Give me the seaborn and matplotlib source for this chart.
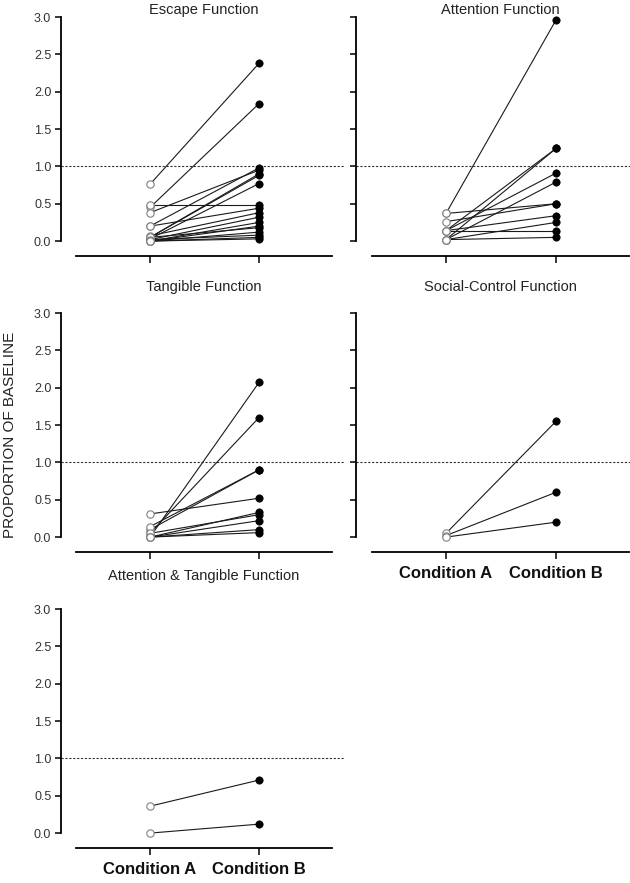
import numpy as np
import pandas as pd
import matplotlib
matplotlib.use("Agg")
import matplotlib.pyplot as plt
import seaborn as sns

# ---- data: (Condition A, Condition B) pairs per function ----
escape_a = [0.76, 0.45, 0.48, 0.38, 0.20, 0.20, 0.05, 0.05, 0.03, 0.07, 0.02, 0.00, 0.00, 0.05, 0.00, 0.02, 0.00, 0.00]
escape_b = [2.38, 1.84, 0.48, 0.95, 0.98, 0.44, 0.90, 0.88, 0.77, 0.38, 0.32, 0.25, 0.20, 0.18, 0.12, 0.08, 0.05, 0.03]

attention_a = [0.37, 0.37, 0.14, 0.02, 0.14, 0.02, 0.26, 0.14, 0.02, 0.14, 0.02]
attention_b = [2.96, 0.50, 1.24, 1.24, 0.91, 0.79, 0.50, 0.34, 0.25, 0.14, 0.05]

tangible_a = [0.00, 0.05, 0.10, 0.14, 0.31, 0.00, 0.05, 0.00, 0.00, 0.00]
tangible_b = [2.07, 1.60, 0.90, 0.90, 0.52, 0.33, 0.30, 0.22, 0.10, 0.06]

social_a = [0.05, 0.02, 0.00]
social_b = [1.55, 0.60, 0.20]

att_tang_a = [0.36, 0.00]
att_tang_b = [0.71, 0.12]

titles = ["Escape Function", "Attention Function", "Tangible Function",
          "Social-Control Function", "Attention & Tangible Function"]
cond_labels = ["Condition A", "Condition B"]
y_ticks = [0.0, 0.5, 1.0, 1.5, 2.0, 2.5, 3.0]

panels = [(escape_a, escape_b), (attention_a, attention_b), (tangible_a, tangible_b),
          (social_a, social_b), (att_tang_a, att_tang_b)]

sns.set_theme(style="ticks")
plt.rcParams["font.family"] = ["Liberation Sans", "DejaVu Sans"]

W, H = 630, 883
fig = plt.figure(figsize=(W / 100, H / 100), dpi=100)

UNIT = 74.7          # px per y unit
Y_TOP, Y_BOT = 3.03, -0.22
# column geometry in px: axes left, axes right, tick A, tick B, x-line start, x-line end
cols = [(61, 345, 150, 259, 76, 332), (356, 630, 446, 556, 372, 629)]
rows = [17, 313, 609]  # px of y = 3.0
title_y = [10, 287, 576]

for i, ((a_vals, b_vals), title) in enumerate(zip(panels, titles)):
    r, c = divmod(i, 2)
    left, right, t0, t1, xs, xe = cols[c]
    top3 = rows[r]
    top = top3 - (Y_TOP - 3) * UNIT
    bottom = top3 + (3 - Y_BOT) * UNIT
    ax = fig.add_axes([left / W, 1 - bottom / H, (right - left) / W, (bottom - top) / H])
    ax.set_facecolor("none")

    df = pd.DataFrame({
        "id": list(range(len(a_vals))) * 2,
        "cond": [0] * len(a_vals) + [1] * len(b_vals),
        "value": list(a_vals) + list(b_vals),
    })
    sns.lineplot(data=df, x="cond", y="value", units="id", estimator=None,
                 color="#1a1a1a", linewidth=0.8, ax=ax, zorder=2)
    sns.scatterplot(data=df[df["cond"] == 0], x="cond", y="value", marker="o", s=28,
                    facecolor="white", edgecolor="#808080", linewidth=0.8, ax=ax,
                    zorder=3, clip_on=False)
    sns.scatterplot(data=df[df["cond"] == 1], x="cond", y="value", marker="o", s=28,
                    color="black", edgecolor="black", linewidth=0.5, ax=ax,
                    zorder=3, clip_on=False)

    ax.axhline(1.0, color="#333333", linestyle=(0, (2, 1.5)), linewidth=0.8, zorder=1)

    span = t1 - t0
    ax.set_xlim((left - t0) / span, (right - t0) / span)
    ax.set_ylim(Y_BOT, Y_TOP)

    sns.despine(ax=ax)
    ax.spines["left"].set_bounds(0, 3)
    ax.spines["left"].set_linewidth(1.3)
    ax.spines["bottom"].set_position(("data", -0.2))
    ax.spines["bottom"].set_bounds((xs - t0) / span, (xe - t0) / span)
    ax.spines["bottom"].set_linewidth(1.3)
    ax.spines["left"].set_color("black")
    ax.spines["bottom"].set_color("black")

    ax.set_yticks(y_ticks)
    ax.set_xticks([0, 1])
    ax.tick_params(axis="y", length=4, width=1.1, pad=3, labelsize=9,
                   labelcolor="#333333", color="black")
    ax.tick_params(axis="x", length=5, width=1.1, pad=5, color="black")
    if c == 0:
        ax.set_yticklabels([f"{v:.1f}" for v in y_ticks])
    else:
        ax.set_yticklabels([])
    if i in (3, 4):
        ax.set_xticklabels(cond_labels, fontsize=12, fontweight="bold", color="#111111")
    else:
        ax.set_xticklabels([])
    ax.set_xlabel("")
    ax.set_ylabel("")

    cx = ((xs + xe) / 2) / W
    fig.text(cx, 1 - title_y[r] / H, title, ha="center", va="center",
             fontsize=10.5, color="#222222")

fig.text(10 / W, 1 - 435 / H, "PROPORTION OF BASELINE", rotation=90,
         ha="center", va="center", fontsize=11, color="#222222")

fig.savefig("out.png", dpi=100)
